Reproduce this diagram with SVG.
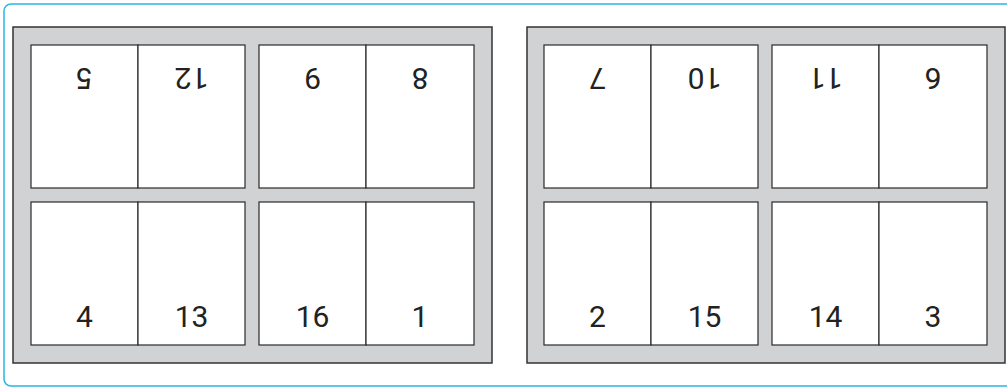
<svg xmlns="http://www.w3.org/2000/svg" width="1007" height="388" viewBox="0 0 1007 388">
<style>
.frame{fill:#ffffff;stroke:#2bb4e6;stroke-width:1.5}
.sheet{fill:#d1d2d4;stroke:#333333;stroke-width:1.5}
.page{fill:#ffffff;stroke:#2a2a2a;stroke-width:1.2}
.num{font-family:Roboto,"Liberation Sans",sans-serif;font-size:30px;fill:#222222;text-anchor:middle}
</style>
<rect class="frame" x="4" y="4" width="1030" height="382" rx="7"/>
<g id="sheet-front">
<rect class="sheet" x="13" y="27" width="479" height="336"/>
<g id="p5"><rect class="page" x="31" y="45" width="107" height="143"/><text class="num" x="84.5" y="68" transform="rotate(180 84.5 68)">5</text></g>
<g id="p12"><rect class="page" x="138" y="45" width="107" height="143"/><text class="num" x="191.5" y="68" transform="rotate(180 191.5 68)">12</text></g>
<g id="p9"><rect class="page" x="259" y="45" width="107" height="143"/><text class="num" x="312.5" y="68" transform="rotate(180 312.5 68)">9</text></g>
<g id="p8"><rect class="page" x="366" y="45" width="108" height="143"/><text class="num" x="420" y="68" transform="rotate(180 420 68)">8</text></g>
<g id="p4"><rect class="page" x="31" y="202" width="107" height="143"/><text class="num" x="84.5" y="327">4</text></g>
<g id="p13"><rect class="page" x="138" y="202" width="107" height="143"/><text class="num" x="191.5" y="327">13</text></g>
<g id="p16"><rect class="page" x="259" y="202" width="107" height="143"/><text class="num" x="312.5" y="327">16</text></g>
<g id="p1"><rect class="page" x="366" y="202" width="108" height="143"/><text class="num" x="420" y="327">1</text></g>
</g>
<g id="sheet-back">
<rect class="sheet" x="527" y="27" width="478" height="336"/>
<g id="p7"><rect class="page" x="544" y="45" width="107" height="143"/><text class="num" x="597.5" y="68" transform="rotate(180 597.5 68)">7</text></g>
<g id="p10"><rect class="page" x="651" y="45" width="107" height="143"/><text class="num" x="704.5" y="68" transform="rotate(180 704.5 68)">10</text></g>
<g id="p11"><rect class="page" x="772" y="45" width="107" height="143"/><text class="num" x="825.5" y="68" transform="rotate(180 825.5 68)">11</text></g>
<g id="p6"><rect class="page" x="879" y="45" width="108" height="143"/><text class="num" x="933" y="68" transform="rotate(180 933 68)">6</text></g>
<g id="p2"><rect class="page" x="544" y="202" width="107" height="143"/><text class="num" x="597.5" y="327">2</text></g>
<g id="p15"><rect class="page" x="651" y="202" width="107" height="143"/><text class="num" x="704.5" y="327">15</text></g>
<g id="p14"><rect class="page" x="772" y="202" width="107" height="143"/><text class="num" x="825.5" y="327">14</text></g>
<g id="p3"><rect class="page" x="879" y="202" width="108" height="143"/><text class="num" x="933" y="327">3</text></g>
</g>
<g id="connectors"/>
</svg>
